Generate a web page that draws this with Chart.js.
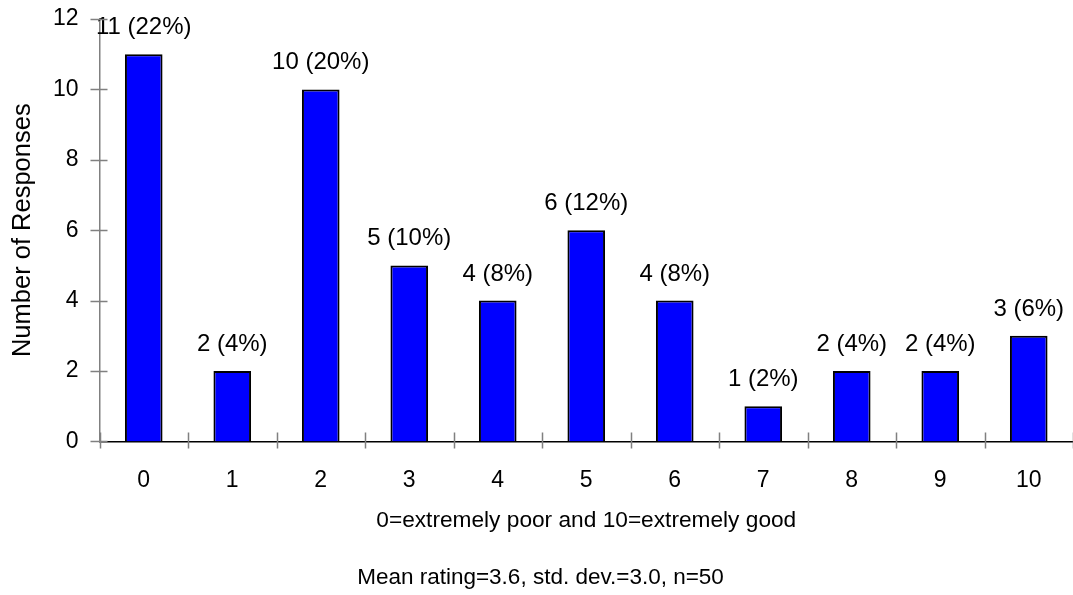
<!DOCTYPE html>
<html>
<head>
<meta charset="utf-8">
<script src="https://cdn.jsdelivr.net/npm/chart.js@4/dist/chart.umd.min.js"></script>
<style>
  html, body { margin: 0; padding: 0; background: #fff; }
  #wrap { width: 1073px; height: 595px; }
</style>
</head>
<body>
<div id="wrap"><canvas id="c" width="1073" height="595"></canvas></div>
<script>
// Rating scale and how many people picked each rating
const ratings = ['0', '1', '2', '3', '4', '5', '6', '7', '8', '9', '10'];
const responses = [11, 2, 10, 5, 4, 6, 4, 1, 2, 2, 3];
const yMin = 0;
const yMax = 12;
const yStep = 2;
const xTitle = '0=extremely poor and 10=extremely good';
const yTitle = 'Number of Responses';
const note = 'Mean rating=3.6, std. dev.=3.0, n=50';

const FONT = "'Liberation Sans', Arial, sans-serif";
const total = responses.reduce((a, b) => a + b, 0);

// Short tick marks that straddle both axis lines
const crossTicks = {
  id: 'crossTicks',
  afterDraw(chart) {
    const { ctx, scales: { x, y }, chartArea } = chart;
    ctx.save();
    ctx.strokeStyle = '#808080';
    ctx.lineWidth = 1.5;
    ctx.beginPath();
    for (let v = yMin; v <= yMax; v += yStep) {
      const py = Math.round(y.getPixelForValue(v)) + 0.5;
      ctx.moveTo(chartArea.left - 9, py);
      ctx.lineTo(chartArea.left + 8, py);
    }
    for (let i = 0; i <= ratings.length; i++) {
      const px = Math.round(x.getPixelForValue(i - 0.5)) + 0.5;
      ctx.moveTo(px, chartArea.bottom - 9);
      ctx.lineTo(px, chartArea.bottom + 7);
    }
    ctx.stroke();
    ctx.restore();
  }
};

// "count (percent)" written above each bar
const countLabels = {
  id: 'countLabels',
  afterDatasetsDraw(chart) {
    const { ctx } = chart;
    const meta = chart.getDatasetMeta(0);
    ctx.save();
    ctx.font = '24px ' + FONT;
    ctx.fillStyle = '#000';
    ctx.textAlign = 'center';
    ctx.textBaseline = 'alphabetic';
    meta.data.forEach((bar, i) => {
      const v = responses[i];
      const pct = Math.round(v / total * 100);
      ctx.fillText(v + ' (' + pct + '%)', bar.x, bar.y - 20);
    });
    ctx.restore();
  }
};

new Chart(document.getElementById('c'), {
  type: 'bar',
  data: {
    labels: ratings,
    datasets: [{
      data: responses,
      backgroundColor: '#0000FF',
      borderColor: '#000000',
      borderWidth: 2,
      barPercentage: 0.425,
      categoryPercentage: 1.0
    }]
  },
  options: {
    responsive: false,
    animation: false,
    layout: { padding: { top: 19, right: 0, bottom: 0, left: 8 } },
    plugins: {
      legend: { display: false },
      tooltip: { enabled: false },
      title: {
        display: true,
        position: 'bottom',
        text: note,
        color: '#000',
        font: { family: FONT, size: 22.5, weight: 'normal' },
        padding: { top: 29.6, bottom: 4 }
      }
    },
    scales: {
      x: {
        offset: true,
        grid: { display: false, drawTicks: false },
        border: { display: true, color: '#000', width: 1.5 },
        ticks: {
          color: '#000',
          padding: 25,
          maxRotation: 0,
          font: { family: FONT, size: 23 }
        },
        title: {
          display: true,
          text: xTitle,
          color: '#000',
          font: { family: FONT, size: 22.7 },
          padding: { top: 17, bottom: 0 }
        },
        afterFit(scale) {
          scale.height = 93;
        }
      },
      y: {
        min: yMin,
        max: yMax,
        grid: { display: false, drawTicks: false },
        border: { display: true, color: '#808080', width: 1.5 },
        ticks: {
          stepSize: yStep,
          color: '#000',
          padding: 21,
          font: { family: FONT, size: 23 }
        },
        title: {
          display: true,
          text: yTitle,
          color: '#000',
          font: { family: FONT, size: 25.5 },
          padding: { top: 0, bottom: 17 }
        },
        afterFit(scale) {
          scale.width = 91.5;
          scale.paddingTop = 0;
          scale.paddingBottom = 0;
        }
      }
    }
  },
  plugins: [crossTicks, countLabels]
});
</script>
</body>
</html>
